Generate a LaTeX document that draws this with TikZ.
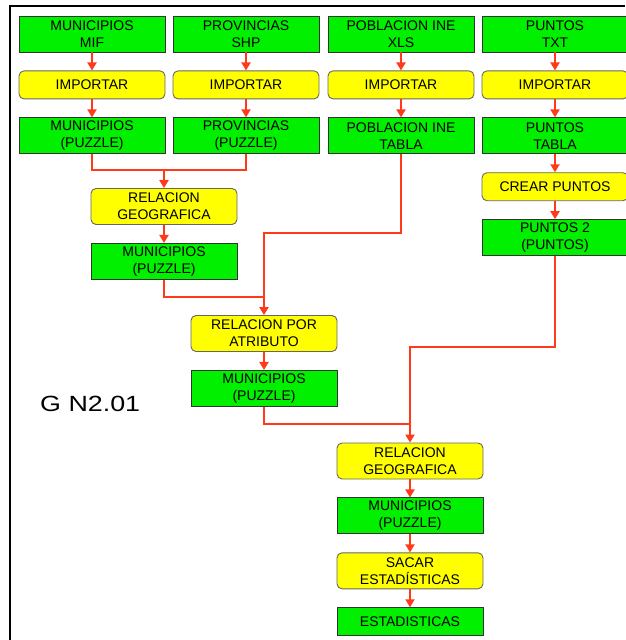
\documentclass[tikz,border=0pt]{standalone}
\usepackage{fontspec}
\usepackage{graphicx}
\setmainfont{Liberation Sans}
\usetikzlibrary{positioning,arrows.meta,calc}
\definecolor{GNGreen}{RGB}{0,240,0}
\definecolor{GNYellow}{RGB}{255,255,0}
\definecolor{GNRed}{RGB}{255,58,26}
\newcommand{\GNGap}{18pt}
\newcommand{\GNBoxWidth}{146pt}

\begin{document}
\begin{tikzpicture}[x=1pt,y=1pt,
		node distance=\GNGap,
		box/.style={minimum width=\GNBoxWidth, inner sep=0pt, align=center, font=\fontsize{14}{17}\selectfont},
		datos/.style={box, draw=black!80, line width=0.9pt, fill=GNGreen, minimum height=36pt},
		paso/.style={box, draw=black!60, line width=0.9pt, fill=GNYellow, rounded corners=5pt, minimum height=36pt},
		corto/.style={minimum height=28pt},
		link/.style={draw=GNRed, line width=2pt},
		flow/.style={link, -{Triangle[length=8pt,width=9pt]}},
		frame/.style={draw=black, line width=1.5pt}]
	\useasboundingbox (0,0) rectangle (625,-640);
	\draw[frame] (10,-640) -- (10,-6) -- (625,-6);

	% columna municipios
	\node[datos] (mif) at (92,-34) {MUNICIPIOS\\MIF};
	\node[paso, corto, below=of mif] (impA) {IMPORTAR};
	\node[datos, below=of impA] (muniA) {MUNICIPIOS\\(PUZZLE)};
	% columna provincias
	\node[datos] (shp) at (246,-34) {PROVINCIAS\\SHP};
	\node[paso, corto, below=of shp] (impB) {IMPORTAR};
	\node[datos, below=of impB] (provB) {PROVINCIAS\\(PUZZLE)};
	% columna poblacion
	\node[datos] (xls) at (401,-34) {POBLACION INE\\XLS};
	\node[paso, corto, below=of xls] (impC) {IMPORTAR};
	\node[datos, below=of impC] (pobC) {POBLACION INE\\TABLA};
	% columna puntos
	\node[datos] (txt) at (555,-34) {PUNTOS\\TXT};
	\node[paso, corto, below=of txt] (impD) {IMPORTAR};
	\node[datos, below=of impD] (ptsD) {PUNTOS\\TABLA};
	\node[paso, corto, below=of ptsD] (creaD) {CREAR PUNTOS};
	\node[datos, below=of creaD] (pts2) {PUNTOS 2\\(PUNTOS)};

	% relaciones
	\node[paso] (relgeoA) at (164,-206.5) {RELACION\\GEOGRAFICA};
	\node[datos, below=of relgeoA] (muniB) {MUNICIPIOS\\(PUZZLE)};
	\node[paso] (relatr) at (264,-333.5) {RELACION POR\\ATRIBUTO};
	\node[datos, below=of relatr] (muniC) {MUNICIPIOS\\(PUZZLE)};
	\node[paso] (relgeoB) at (410,-461) {RELACION\\GEOGRAFICA};
	\node[datos, below=of relgeoB] (muniD) {MUNICIPIOS\\(PUZZLE)};
	\node[paso, below=of muniD] (sacar) {SACAR\\ESTADÍSTICAS};
	\node[datos, corto, below=of sacar] (estad) {ESTADISTICAS};

	\node[anchor=base west, inner sep=0pt, font=\fontsize{22}{26}\selectfont] (gname) at (40,-411) {\scalebox{1.22}[1]{G N2.01}};

	% flechas
	\draw[flow] (mif) -- (impA);
	\draw[flow] (impA) -- (muniA);
	\draw[flow] (shp) -- (impB);
	\draw[flow] (impB) -- (provB);
	\draw[flow] (xls) -- (impC);
	\draw[flow] (impC) -- (pobC);
	\draw[flow] (txt) -- (impD);
	\draw[flow] (impD) -- (ptsD);
	\draw[flow] (ptsD) -- (creaD);
	\draw[flow] (creaD) -- (pts2);
	\draw[flow] (relgeoA) -- (muniB);
	\draw[flow] (relatr) -- (muniC);
	\draw[flow] (relgeoB) -- (muniD);
	\draw[flow] (muniD) -- (sacar);
	\draw[flow] (sacar) -- (estad);

	\coordinate (jA) at ($(relgeoA.north)+(0,18)$);
	\draw[link] (muniA.south) |- (jA) -| (provB.south);
	\draw[flow] (jA) -- (relgeoA.north);

	\coordinate (jB) at ($(relatr.north)+(0,18)$);
	\coordinate (kB) at (relatr.north |- 0,-233);
	\draw[link] (muniB.south) |- (jB);
	\draw[flow] (pobC.south) |- (kB) -- (relatr.north);

	\coordinate (jC) at ($(relgeoB.north)+(0,19)$);
	\coordinate (kC) at (relgeoB.north |- 0,-347);
	\draw[link] (muniC.south) |- (jC);
	\draw[flow] (pts2.south) |- (kC) -- (relgeoB.north);
\end{tikzpicture}
\end{document}
